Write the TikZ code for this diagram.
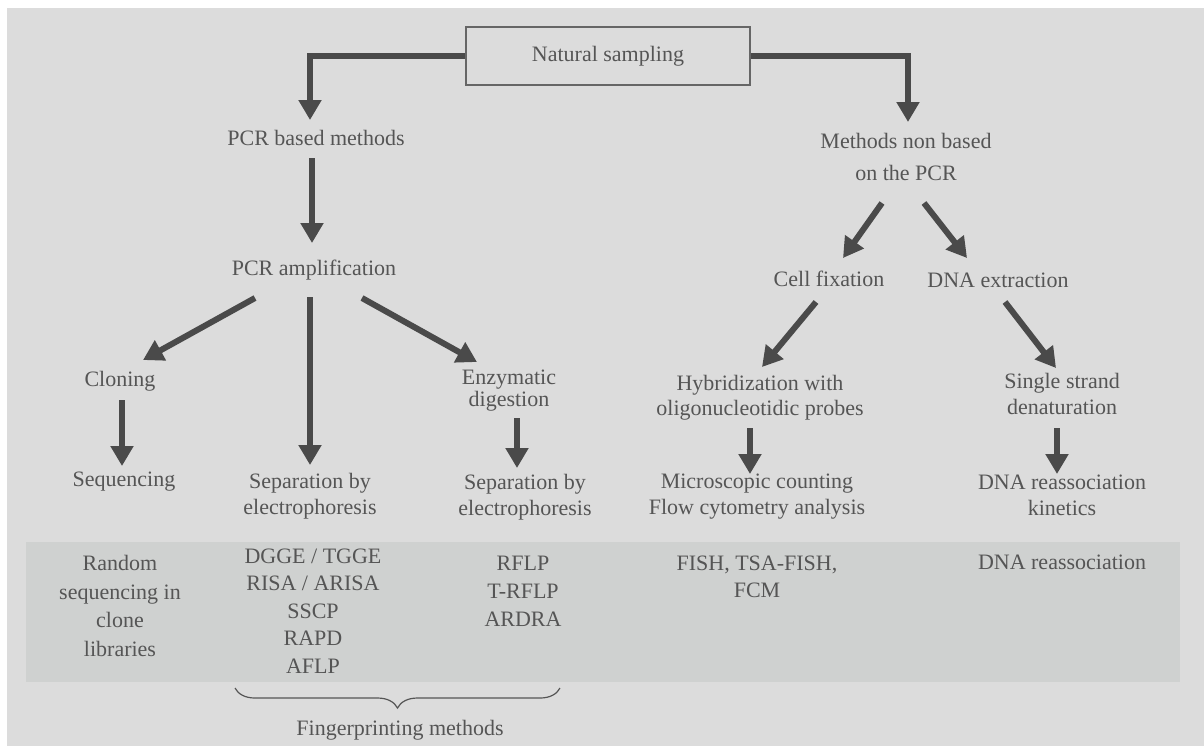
\documentclass[tikz,border=0pt]{standalone}
\usepackage{fontspec}
\setmainfont{Liberation Serif}
\usetikzlibrary{arrows.meta,calc,decorations.pathreplacing}
\definecolor{bg}{HTML}{DCDCDC}
\definecolor{band}{HTML}{CFD1D0}
\definecolor{ink}{HTML}{4A4A4A}
\definecolor{txt}{HTML}{555555}
\definecolor{boxline}{HTML}{666666}
\begin{document}
\begin{tikzpicture}[x=0.5pt,y=-0.5pt,
  lbl/.style={inner sep=0pt, text=txt, font=\fontsize{11}{13}\selectfont, align=center},
  arr/.style={draw=ink, line width=3pt, -{Triangle[width=11pt,length=10pt]}},
  topbox/.style={draw=boxline, line width=1pt, minimum width=142pt, minimum height=29pt, inner sep=0pt, text=txt, font=\fontsize{11}{13}\selectfont},
  bracestyle/.style={draw=txt, line width=0.6pt, decorate, decoration={brace, amplitude=10pt, mirror}}
]
\useasboundingbox (0,0) rectangle (1204,746);
\fill[white] (0,0) rectangle (1204,746);
\fill[bg] (7,8) rectangle (1204,746);
\fill[band] (26,542) rectangle (1180,682);

% nodes
\node[topbox] (ns) at (608,56) {Natural sampling};
\node[lbl] (pcrb) at (316,138) {PCR based methods};
\node[lbl, font=\fontsize{11}{16}\selectfont] (mnb) at (906,157) {Methods non based\\on the PCR};
\node[lbl] (amp) at (314,270) {PCR amplification};
\node[lbl] (clon) at (120,381) {Cloning};
\node[lbl, font=\fontsize{11}{10}\selectfont] (enz) at (509,391) {Enzymatic\\digestion};
\node[lbl] (seq) at (124,482) {Sequencing};
\node[lbl] (sep1) at (310,496) {Separation by\\electrophoresis};
\node[lbl] (sep2) at (525,497) {Separation by\\electrophoresis};
\node[lbl] (cell) at (829,279) {Cell fixation};
\node[lbl] (dna) at (998,280) {DNA extraction};
\node[lbl, font=\fontsize{11}{12.5}\selectfont] (hyb) at (760,398) {Hybridization with\\oligonucleotidic probes};
\node[lbl] (ss) at (1062,394) {Single strand\\denaturation};
\node[lbl] (mic) at (757,497) {Microscopic counting\\Flow cytometry analysis};
\node[lbl] (kin) at (1062,495) {DNA reassociation\\kinetics};

% band texts
\node[lbl, font=\fontsize{11}{14.2}\selectfont] (rnd) at (120,606) {Random\\sequencing in\\clone\\libraries};
\node[lbl, font=\fontsize{11}{13.75}\selectfont] (fpm) at (313,611) {DGGE / TGGE\\RISA / ARISA\\SSCP\\RAPD\\AFLP};
\node[lbl, font=\fontsize{11}{14}\selectfont] (rfl) at (523,591) {RFLP\\T-RFLP\\ARDRA};
\node[lbl, font=\fontsize{11}{13.5}\selectfont] (fish) at (757,577) {FISH, TSA-FISH,\\FCM};
\node[lbl] (dnar) at (1062,562) {DNA reassociation};

\node[lbl] (fing) at (400,730) {Fingerprinting methods};
\draw[bracestyle] (235,688) -- (560,688);

% connectors
\draw[arr] (ns.west) -| ($(pcrb)+(-6,-18)$);
\draw[arr] (ns.east) -| ($(mnb)+(2,-35)$);
\draw[arr] ($(pcrb)+(-4,20)$) -- ($(amp)+(-2,-27)$);
\draw[arr] ($(amp)+(-59,28)$) -- ($(clon)+(23,-21)$);
\draw[arr] ($(amp)+(-4,27)$) -- ($(sep1)+(0,-31)$);
\draw[arr] ($(amp)+(48,28)$) -- ($(enz)+(-32,-29)$);
\draw[arr] ($(clon)+(2,19)$) -- ($(seq)+(-2,-16)$);
\draw[arr] ($(enz)+(8,27)$) -- ($(sep2)+(-8,-29)$);
\draw[arr] ($(mnb)+(-24,46)$) -- ($(cell)+(14,-21)$);
\draw[arr] ($(mnb)+(18,46)$) -- ($(dna)+(-31,-22)$);
\draw[arr] ($(cell)+(-13,23)$) -- ($(hyb)+(2,-31)$);
\draw[arr] ($(dna)+(7,22)$) -- ($(ss)+(-6,-26)$);
\draw[arr] ($(hyb)+(-10,30)$) -- ($(mic)+(-7,-23)$);
\draw[arr] ($(ss)+(-5,34)$) -- ($(kin)+(-5,-21)$);
\end{tikzpicture}
\end{document}
